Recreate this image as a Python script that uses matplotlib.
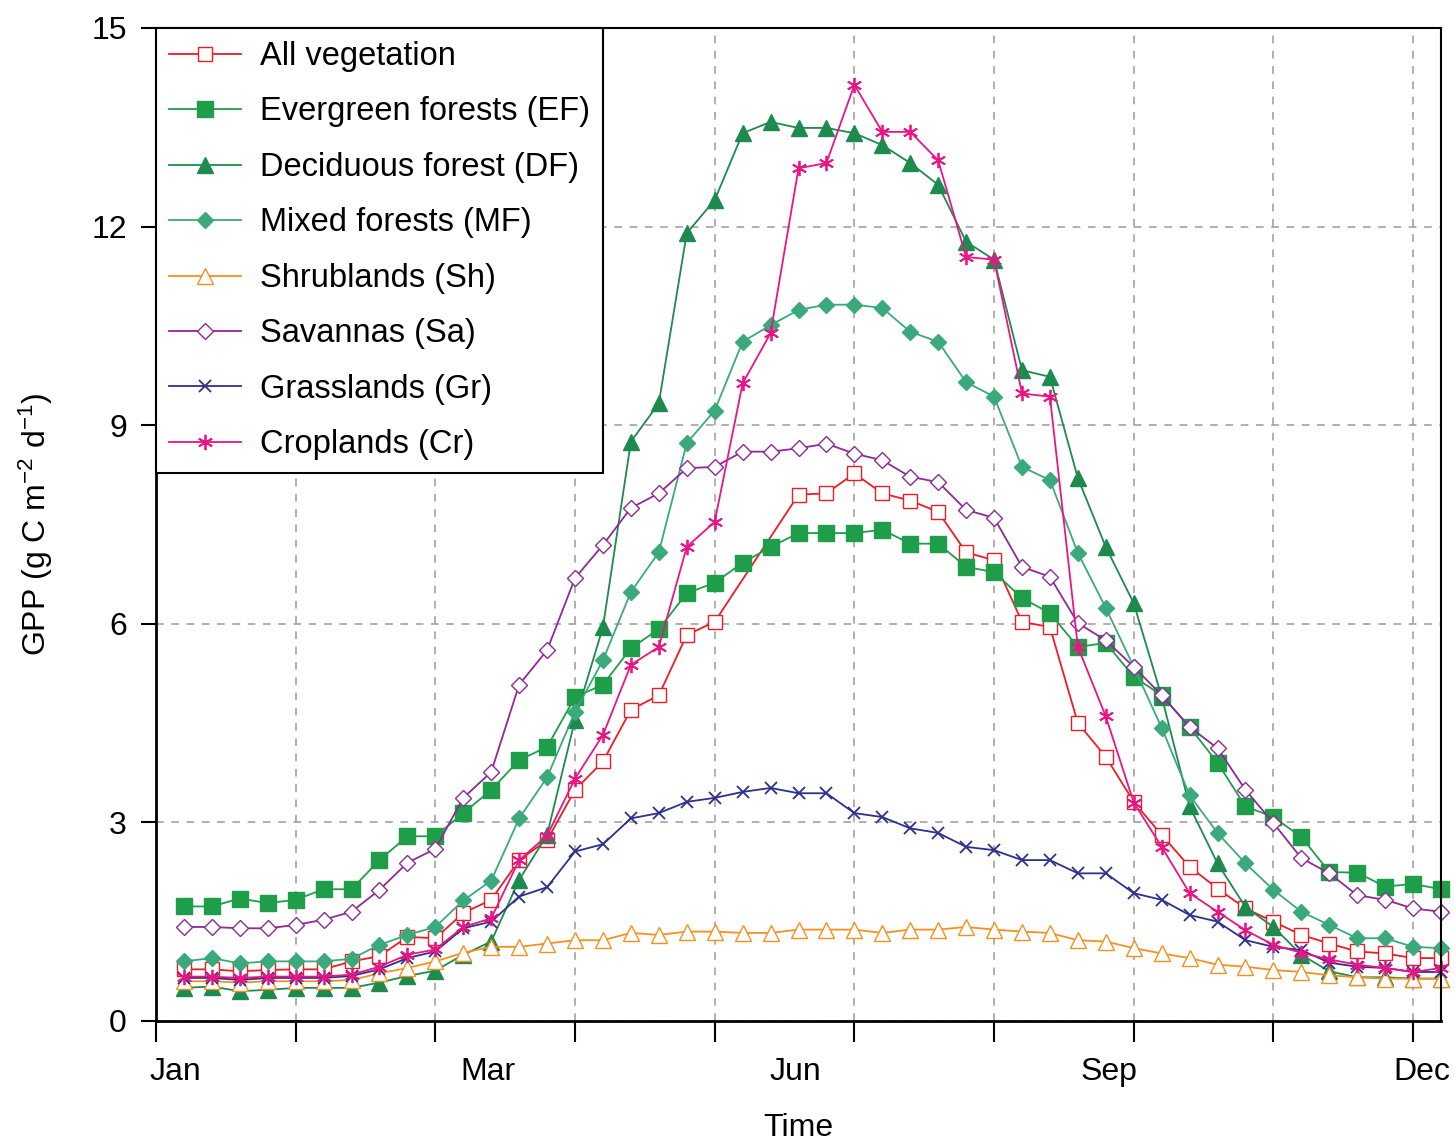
import numpy as np
import matplotlib
matplotlib.use("Agg")
import matplotlib.pyplot as plt

plt.rcParams['font.family'] = ['Liberation Sans', 'DejaVu Sans']
plt.rcParams['mathtext.default'] = 'regular'
plt.rcParams['axes.unicode_minus'] = False

# 8-day composites, index 1..46
x = np.arange(1, 47)

all_veg = [0.78, 0.78, 0.75, 0.77, 0.78, 0.78, 0.90, 0.98, 1.27, 1.25,
           1.63, 1.83, 2.43, 2.73, 3.49, 3.92, 4.70, 4.92, 5.83, 6.03,
           None, None, 7.95, 7.97, 8.27, 7.97, 7.86, 7.69, 7.08, 6.96,
           6.03, 5.95, 4.50, 3.99, 3.31, 2.81, 2.33, 2.00, 1.70, 1.50,
           1.30, 1.17, 1.05, 1.02, 0.95, 0.95]
evergreen = [1.73, 1.73, 1.85, 1.78, 1.83, 1.99, 1.99, 2.43, 2.79, 2.79,
             3.14, 3.49, 3.94, 4.14, 4.89, 5.08, 5.63, 5.92, 6.46, 6.62,
             6.92, 7.16, 7.37, 7.37, 7.37, 7.42, 7.21, 7.21, 6.86, 6.78,
             6.39, 6.16, 5.65, 5.71, 5.20, 4.92, 4.44, 3.90, 3.24, 3.08,
             2.78, 2.25, 2.24, 2.03, 2.07, 1.99]
deciduous = [0.50, 0.52, 0.45, 0.47, 0.50, 0.50, 0.50, 0.58, 0.68, 0.76,
             1.00, 1.20, 2.13, 2.81, 4.55, 5.95, 8.75, 9.33, 11.90, 12.40,
             13.41, 13.58, 13.49, 13.49, 13.41, 13.23, 12.96, 12.63, 11.77, 11.50,
             9.83, 9.73, 8.20, 7.16, 6.31, 4.90, 3.24, 2.38, 1.72, 1.42,
             1.00, 0.75, 0.66, 0.66, 0.64, 0.64]
mixed = [0.90, 0.95, 0.87, 0.90, 0.90, 0.90, 0.94, 1.15, 1.30, 1.42,
         1.82, 2.12, 3.06, 3.68, 4.67, 5.45, 6.48, 7.08, 8.73, 9.22,
         10.26, 10.51, 10.74, 10.82, 10.82, 10.77, 10.41, 10.26, 9.65, 9.43,
         8.37, 8.17, 7.07, 6.24, 5.35, 4.43, 3.41, 2.84, 2.38, 1.98,
         1.65, 1.45, 1.25, 1.25, 1.12, 1.10]
shrub = [0.60, 0.60, 0.58, 0.60, 0.60, 0.60, 0.62, 0.72, 0.80, 0.90,
         1.03, 1.12, 1.12, 1.17, 1.22, 1.22, 1.33, 1.30, 1.35, 1.35,
         1.33, 1.33, 1.38, 1.38, 1.38, 1.33, 1.38, 1.38, 1.42, 1.38,
         1.35, 1.33, 1.22, 1.20, 1.10, 1.02, 0.95, 0.85, 0.82, 0.77,
         0.74, 0.69, 0.66, 0.64, 0.64, 0.64]
savanna = [1.42, 1.42, 1.40, 1.40, 1.45, 1.53, 1.65, 1.98, 2.39, 2.60,
           3.37, 3.76, 5.08, 5.60, 6.69, 7.19, 7.75, 7.97, 8.35, 8.37,
           8.60, 8.60, 8.65, 8.72, 8.57, 8.47, 8.22, 8.14, 7.72, 7.60,
           6.86, 6.71, 6.01, 5.75, 5.35, 4.92, 4.44, 4.12, 3.49, 2.99,
           2.46, 2.23, 1.90, 1.83, 1.70, 1.65]
grass = [0.65, 0.65, 0.62, 0.65, 0.65, 0.65, 0.68, 0.78, 0.95, 1.05,
         1.40, 1.50, 1.88, 2.02, 2.56, 2.67, 3.06, 3.14, 3.31, 3.37,
         3.46, 3.52, 3.44, 3.44, 3.14, 3.08, 2.91, 2.84, 2.63, 2.58,
         2.43, 2.43, 2.23, 2.23, 1.93, 1.83, 1.60, 1.50, 1.22, 1.12,
         1.07, 0.88, 0.82, 0.80, 0.74, 0.74]
crop = [0.67, 0.67, 0.65, 0.67, 0.67, 0.67, 0.70, 0.82, 1.00, 1.08,
        1.42, 1.55, 2.43, 2.80, 3.66, 4.32, 5.38, 5.65, 7.16, 7.54,
        9.63, 10.39, 12.88, 12.96, 14.14, 13.43, 13.43, 13.00, 11.54, 11.50,
        9.48, 9.43, 5.65, 4.60, 3.30, 2.63, 1.93, 1.65, 1.37, 1.15,
        1.03, 0.93, 0.85, 0.80, 0.74, 0.80]

labels = ['All vegetation', 'Evergreen forests (EF)', 'Deciduous forest (DF)',
          'Mixed forests (MF)', 'Shrublands (Sh)', 'Savannas (Sa)',
          'Grasslands (Gr)', 'Croplands (Cr)']
month_pos = [0.7, 11.9, 22.9, 34.1, 45.3]
month_labels = ['Jan', 'Mar', 'Jun', 'Sep', 'Dec']

series = [all_veg, evergreen, deciduous, mixed, shrub, savanna, grass, crop]
styles = [
    dict(color='#ee1c25', marker='s', mfc='white', ms=10),
    dict(color='#1f9e4a', marker='s', mfc='#1f9e4a', ms=11),
    dict(color='#1d8a4e', marker='^', mfc='#1d8a4e', ms=11),
    dict(color='#3aaa7c', marker='D', mfc='#3aaa7c', ms=8.5),
    dict(color='#f7901e', marker='^', mfc='white', ms=11),
    dict(color='#8e2a97', marker='D', mfc='white', ms=8.5),
    dict(color='#2e2f8f', marker='x', mfc='#2e2f8f', ms=9, mew=1.3),
    dict(color='#ea1585', marker=(6, 2, 0), mfc='#ea1585', ms=11, mew=1.3),
]

fs = 23

fig = plt.figure(figsize=(14.55, 11.46), dpi=100)
ax = fig.add_axes([0.1072, 0.1091, 0.8832, 0.8665])

for vals, lab, st in zip(series, labels, styles):
    v = np.array([np.nan if a is None else a for a in vals], dtype=float)
    ok = ~np.isnan(v)
    ax.plot(x[ok], v[ok], label=lab, lw=1.3, mec=st['color'],
            clip_on=False, **st)

ax.set_xlim(0, 46)
ax.set_ylim(0, 15)
ax.set_yticks(np.arange(0, 16, 3))
ax.set_xticks(np.arange(0, 46, 5))
ax.set_xticklabels([])
ax.set_xticks(month_pos, minor=True)
ax.set_xticklabels(month_labels, minor=True)

ax.tick_params(axis='x', which='major', direction='out', length=15, width=1.5)
ax.tick_params(axis='x', which='minor', length=0, pad=26, labelsize=fs)
ax.tick_params(axis='y', direction='out', length=11, width=1.5, pad=10, labelsize=fs)

ax.grid(which='major', color='#9a9a9a', linestyle=(0, (5, 5)), lw=1.1)
ax.set_axisbelow(True)

for s in ['left', 'bottom']:
    ax.spines[s].set_linewidth(2)
for s in ['top', 'right']:
    ax.spines[s].set_linewidth(1.5)

ax.set_xlabel('Time', fontsize=fs, labelpad=19)
ax.set_ylabel('GPP (g C m$^{-2}$ d$^{-1}$)', fontsize=fs, labelpad=26)

leg = ax.legend(loc='upper left', bbox_to_anchor=(0, 1), borderaxespad=0,
                fontsize=23.5, fancybox=False, framealpha=1, edgecolor='black',
                handlelength=2.2, handletextpad=0.6, labelspacing=0.75,
                borderpad=0.4)
leg.get_frame().set_linewidth(1.5)
leg.set_zorder(5)

fig.savefig('out.png', dpi=100)
